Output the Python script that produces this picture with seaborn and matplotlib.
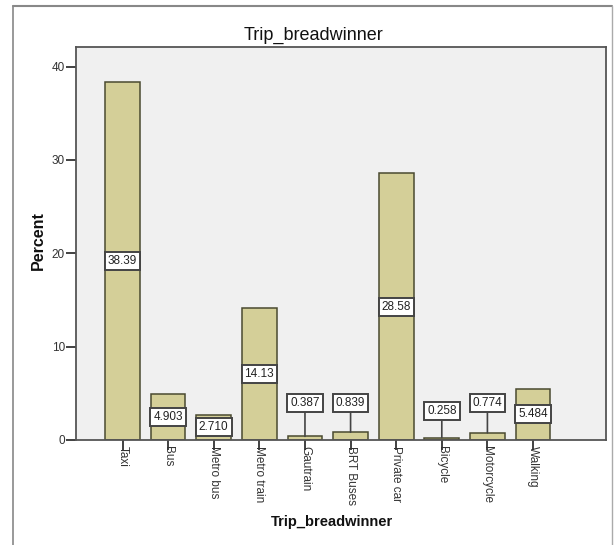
import matplotlib
matplotlib.use("Agg")
import matplotlib.pyplot as plt
import seaborn as sns
import pandas as pd
from matplotlib.lines import Line2D

categories = ["Taxi", "Bus", "Metro bus", "Metro train", "Gautrain", "BRT Buses",
              "Private car", "Bicycle", "Motorcycle", "Walking"]
percent = [38.39, 4.903, 2.710, 14.13, 0.387, 0.839, 28.58, 0.258, 0.774, 5.484]
label_text = ["38.39", "4.903", "2.710", "14.13", "0.387", "0.839", "28.58", "0.258", "0.774", "5.484"]
title = "Trip_breadwinner"
xlabel = "Trip_breadwinner"
ylabel = "Percent"
yticks = [0, 10, 20, 30, 40]

sns.set_theme(style="white")
plt.rcParams["font.family"] = ["Liberation Sans", "DejaVu Sans"]

df = pd.DataFrame({"cat": categories, "pct": percent})

fig = plt.figure(figsize=(6.14, 5.45), dpi=100)
fig.patch.set_facecolor("white")
ax = fig.add_axes([76/614, 1-440/545, (606-76)/614, (440-47)/545])
ax.set_facecolor("#F0F0F0")

sns.barplot(data=df, x="cat", y="pct", order=categories, color="#D4CF98",
            saturation=1, width=0.76, edgecolor="#4a4a30", linewidth=1.1, ax=ax)

ax.set_xlim(-1.02, 10.6)
ax.set_ylim(0, 42.1)
ax.set_yticks(yticks)
ax.set_yticklabels([str(t) for t in yticks], fontsize=8.5, color="#333333")
ax.set_xticks(range(len(categories)))
ax.set_xticklabels(categories, rotation=270, fontsize=8.5, color="#333333",
                   va="top", ha="center")
ax.tick_params(axis="y", direction="out", length=7, width=1.3, color="#333333",
               left=True, pad=1)
ax.tick_params(axis="x", direction="out", length=7, width=1.3, color="#333333",
               bottom=True, pad=-3)
for s in ax.spines.values():
    s.set_color("#555555")
    s.set_linewidth(1.3)
ax.set_xlabel("")
ax.set_ylabel("")

# value labels
box = dict(boxstyle="square,pad=0.25", fc="white", ec="#444444", lw=1.4)
for i, (v, t) in enumerate(zip(percent, label_text)):
    if v > 2:
        ax.text(i, v / 2, t, ha="center", va="center", fontsize=8.5, color="#222222",
                bbox=box)
    else:
        ly = 3.1 if v < 0.3 else 4.0
        ax.annotate(t, xy=(i, v), xytext=(i, ly), ha="center", va="center",
                    fontsize=8.5, color="#222222", bbox=box,
                    arrowprops=dict(arrowstyle="-", color="#444444", lw=1.2,
                                    shrinkA=0, shrinkB=0))

fig.text(313/614, 1-35/545, title, ha="center", va="center", fontsize=13, color="#111111")
fig.text(332/614, 1-522/545, xlabel, ha="center", va="center", fontsize=10.5,
         fontweight="bold", color="#111111")
fig.text(38/614, 1-241/545, ylabel, ha="center", va="center", rotation=90,
         fontsize=11.5, fontweight="bold", color="#111111")

# outer frame
fig.add_artist(Line2D([13/614, 13/614], [0, 1-6/545], transform=fig.transFigure,
                      color="#888888", lw=1.2))
fig.add_artist(Line2D([13/614, 612/614], [1-6/545, 1-6/545], transform=fig.transFigure,
                      color="#888888", lw=1.5))
fig.add_artist(Line2D([612/614, 612/614], [0, 1-6/545], transform=fig.transFigure,
                      color="#aaaaaa", lw=1.0))

fig.savefig("out.png", dpi=100)
